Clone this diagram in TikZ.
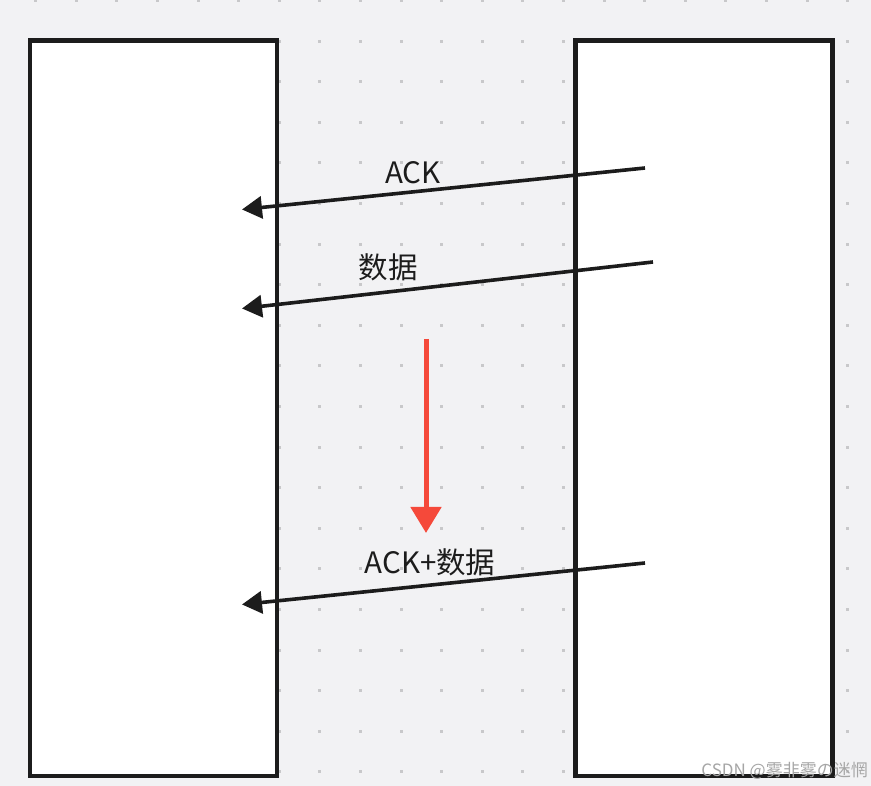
\documentclass[tikz,border=0pt]{standalone}
\usepackage{fontspec}
\setmainfont{Noto Sans CJK SC}
\usetikzlibrary{arrows.meta}
\definecolor{bgc}{HTML}{F2F2F4}
\definecolor{dotc}{HTML}{C8C8CA}
\definecolor{inkc}{HTML}{1C1C1C}
\definecolor{redc}{HTML}{F5493A}
\tikzset{
  box/.style={draw=inkc, line width=4.3pt, fill=white, inner sep=0pt, outer sep=0pt, anchor=north west},
  msg/.style={draw=inkc, line width=3.6pt, -{Triangle[length=20pt,width=22pt]}},
  lbl/.style={text=inkc, font=\fontsize{29.5}{31}\selectfont, inner sep=0pt},
  downarrow/.style={draw=redc, line width=5pt, -{Triangle[length=26pt,width=30pt]}},
  wmark/.style={text=black!35, font=\fontsize{17}{18}\selectfont, inner sep=0pt, anchor=east}
}
\begin{document}
\begin{tikzpicture}[x=1pt,y=1pt]
\fill[bgc] (0,0) rectangle (871,786);
\useasboundingbox (0,0) rectangle (871,786);
\foreach \i in {0,...,20}{
  \foreach \j in {0,...,19}{
    \fill[dotc] ({35.6+40.6*\i-1.5},{786-(0.6+40.6*\j)-1.5}) rectangle ++(3,3);
  }
}
\node[box, minimum width=247pt, minimum height=735.5pt] (left) at (30,745.5) {};
\node[box, minimum width=257pt, minimum height=735.5pt] (right) at (575.5,745.5) {};
% arrows
\coordinate (s1) at (645,618);
\coordinate (t1) at (242,576.5);
\coordinate (s2) at (653,524);
\coordinate (t2) at (242,477.5);
\coordinate (s3) at (645,223);
\coordinate (t3) at (242,181.5);
\draw[msg] (s1) -- (t1);
\draw[msg] (s2) -- (t2);
\draw[msg] (s3) -- (t3);
\node[lbl] (l1) at (413,613) {ACK};
\node[lbl] (l2) at (388,519) {数据};
\node[lbl] (l3) at (430,224) {ACK+数据};
\coordinate (r1) at (426,447);
\coordinate (r2) at (426,253);
\draw[downarrow] (r1) -- (r2);
\node[wmark] (wm) at (868,15) {CSDN @雾非雾の迷惘};
\end{tikzpicture}
\end{document}
